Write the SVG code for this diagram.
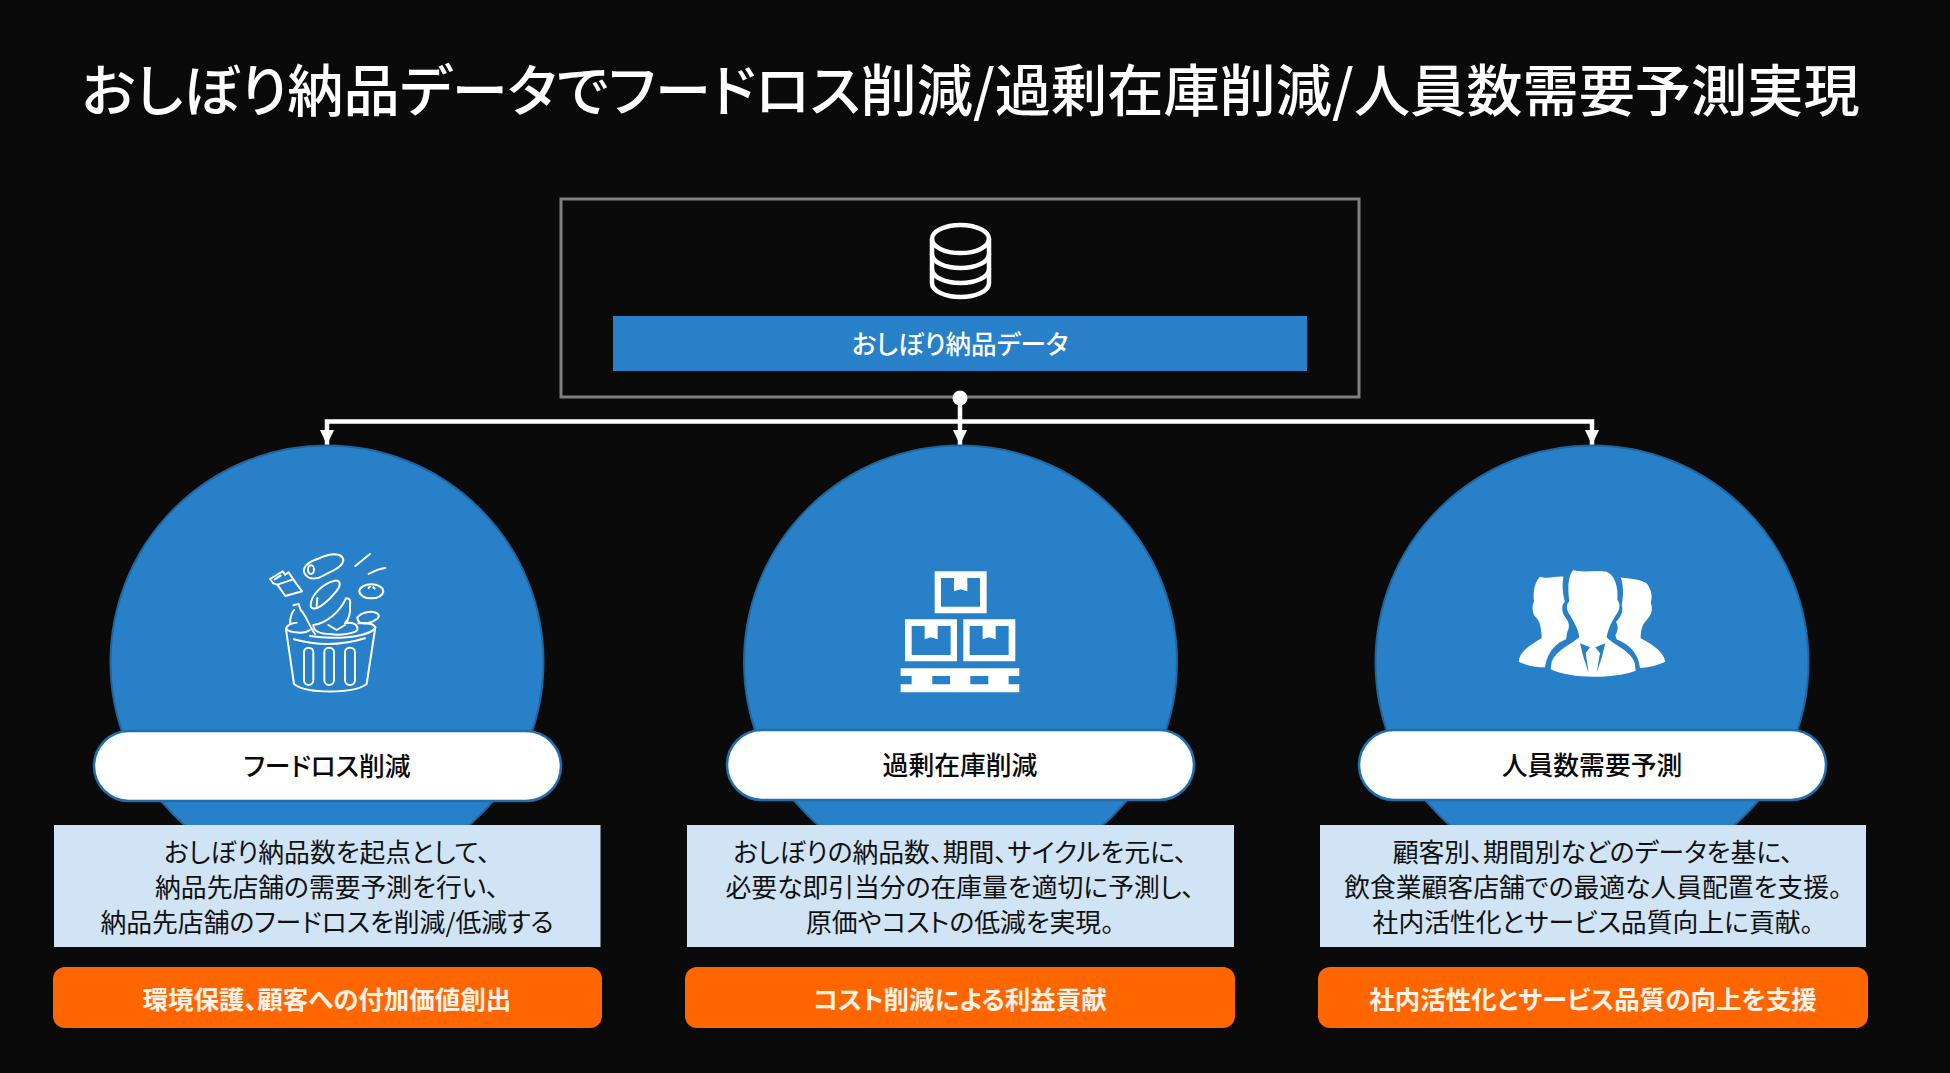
<svg xmlns="http://www.w3.org/2000/svg" width="1950" height="1073" viewBox="0 0 1950 1073">
<style>
text{font-family:"Noto Sans CJK JP","Noto Sans",sans-serif;text-anchor:middle;font-feature-settings:"palt";}
.title{font-size:56.200px;font-weight:500;fill:#fff}
.bar{fill:#2880c8}
.barText{font-size:25.600px;font-weight:500;fill:#fff}
.disc{fill:#2880c8;stroke:#1f659e;stroke-width:2}
.pill{fill:#fff;stroke:#1f6eae;stroke-width:2.5}
.pillText{font-size:25.800px;font-weight:500;fill:#0a0a0a}
.desc{fill:#d0e4f5}
.descText{font-size:25.800px;font-weight:400;fill:#111}
.tag{fill:#ff6600}
.tagText{font-size:25.500px;font-weight:700;fill:#fff2e8}
.line{fill:none;stroke:#fff;stroke-width:3.5;stroke-linecap:round;stroke-linejoin:round}
.conn{fill:none;stroke:#fff;stroke-width:4.500}
</style>
<defs>
<marker id="tip" markerUnits="userSpaceOnUse" markerWidth="16" markerHeight="14" refX="15" refY="7" orient="auto"><path d="M0,0L15,7L0,14Z" fill="#fff"/></marker>
<marker id="dot" markerUnits="userSpaceOnUse" markerWidth="16" markerHeight="16" refX="8" refY="8"><circle cx="8" cy="8" r="7.5" fill="#fff"/></marker>
</defs>
<rect width="1950" height="1073" fill="#0a0a0a"/>
<text id="title" class="title" x="970.500" y="111">おしぼり納品データでフードロス削減/過剰在庫削減/人員数需要予測実現</text>

<g id="data-source">
<rect x="561" y="199" width="798" height="198" fill="none" stroke="#7f7f7f" stroke-width="3"/>
<g class="line" style="stroke-width:4.5">
<ellipse cx="960.500" cy="239" rx="28.500" ry="14"/>
<path d="M932,239V283C932,291 945,297 960.500,297C976,297 989,291 989,283V239"/>
<path d="M932,254C932,262 945,268 960.500,268C976,268 989,262 989,254"/>
<path d="M932,269C932,277 945,283 960.500,283C976,283 989,277 989,269"/>
</g>
<rect class="bar" x="613" y="316" width="694" height="55"/>
<text class="barText" x="960" y="354">おしぼり納品データ</text>
</g>

<g id="connectors">
<path class="conn" d="M960,398V445" marker-start="url(#dot)" marker-end="url(#tip)"/>
<path class="conn" d="M960,421.500H327V445" marker-end="url(#tip)"/>
<path class="conn" d="M960,421.500H1592V445" marker-end="url(#tip)"/>
</g>

<g id="food-loss">
<circle class="disc" cx="327" cy="662" r="216.500"/>
<g transform="translate(230 530) scale(.3333)">
<g class="line" style="stroke-width:6">
<path d="M168,296C172,284 185,279 200,278M240,300C225,312 180,310 168,296M385,280C410,278 432,282 436,292C430,308 400,314 380,318C340,326 280,324 240,318"/>
<path d="M168,298L192,462C230,492 370,492 410,462L436,292"/>
<path d="M192,328C270,350 340,345 405,325"/>
<rect x="222" y="353" width="28" height="112" rx="14"/>
<rect x="283" y="353" width="29" height="112" rx="14"/>
<rect x="345" y="353" width="30" height="112" rx="14"/>
<path d="M222,118C228,95 262,88 285,78C310,68 338,72 340,90C340,112 300,125 278,138C262,148 240,148 232,140C224,133 220,126 222,118Z"/>
<ellipse cx="243" cy="119" rx="9" ry="13"/>
<path d="M120,147L158,124L165,134L176,127L190,148L216,184L166,198L142,164L130,160Z"/>
<path d="M142,164L190,148M134,148L152,137"/>
<path d="M242,228C240,200 275,160 315,152C335,150 332,170 318,185C295,215 262,240 248,235C244,233 242,230 242,228Z"/>
<path d="M260,228L262,204"/>
<path d="M376,108L420,72M416,132C430,124 450,116 466,114"/>
<ellipse cx="424" cy="184" rx="36" ry="21"/>
<path d="M416,174L420,170M430,172L434,176"/>
<path d="M190,226L206,222L212,240C228,255 236,285 255,312M180,282C180,258 186,248 192,240"/>
<path d="M250,285C290,280 330,245 348,205C362,205 362,215 360,225C362,250 355,270 345,280C370,275 385,285 382,300C375,310 330,318 300,312C275,312 250,305 250,285Z"/>
<path d="M295,285L320,300L345,285"/>
<path d="M382,262C395,245 435,238 446,255C450,270 410,285 390,278C384,274 382,268 382,262Z"/>
</g>
</g>
<rect class="pill" x="94" y="731" width="467" height="70" rx="35"/>
<text class="pillText" x="327" y="776">フードロス削減</text>
<rect class="desc" x="54" y="825" width="546.500" height="122"/>
<text class="descText" x="327" y="862">おしぼり納品数を起点として、</text>
<text class="descText" x="327" y="897">納品先店舗の需要予測を行い、</text>
<text class="descText" x="327" y="932">納品先店舗のフードロスを削減/低減する</text>
<rect class="tag" x="53" y="967" width="549" height="61" rx="12"/>
<text class="tagText" x="327" y="1009">環境保護、顧客への付加価値創出</text>
</g>

<g id="overstock">
<circle class="disc" cx="960.500" cy="662" r="216.500"/>
<g transform="translate(860 550) scale(.3333)">
<path fill="#fff" fill-rule="evenodd" d="M224,64H380V190H224ZM243,84V170H360V84H322V124L302,118L282,124V84Z"/>
<path fill="#fff" fill-rule="evenodd" d="M135,208H291V334H135ZM155,228V315H272V228H233V268L213,262L194,268V228Z"/>
<path fill="#fff" fill-rule="evenodd" d="M310,208H466V334H310ZM329,228V315H446V228H407V268L387,262L368,268V228Z"/>
<path fill="#fff" fill-rule="evenodd" d="M122,355H478V378H446V403H478V427H122V403H155V378H122ZM217,378V403H270V378ZM331,378V403H385V378Z"/>
</g>
<rect class="pill" x="727" y="730" width="467" height="70" rx="35"/>
<text class="pillText" x="960" y="775">過剰在庫削減</text>
<rect class="desc" x="687" y="825" width="547" height="122"/>
<text class="descText" x="960" y="862">おしぼりの納品数、期間、サイクルを元に、</text>
<text class="descText" x="960" y="897">必要な即引当分の在庫量を適切に予測し、</text>
<text class="descText" x="960" y="932">原価やコストの低減を実現。</text>
<rect class="tag" x="685" y="967" width="550" height="61" rx="12"/>
<text class="tagText" x="960" y="1009">コスト削減による利益貢献</text>
</g>

<g id="staffing">
<circle class="disc" cx="1592" cy="662" r="216.500"/>
<g transform="translate(1490 550) scale(.3333)">
<path fill="#fff" d="M150,80C175,88 195,78 220,80C215,110 220,140 225,155C212,165 215,190 228,205C240,220 238,235 232,245L228,268C200,280 175,300 165,352C135,352 105,345 86,335C88,310 110,290 155,265C155,240 150,215 140,205C125,190 125,170 132,155C128,125 135,95 150,80Z"/>
<path fill="#fff" d="M392,82C420,88 445,85 470,100C485,120 488,140 482,160C490,175 485,195 470,210C455,225 452,245 452,265C490,285 520,305 526,335C505,345 480,352 450,354C445,310 420,285 380,268L376,255C385,245 385,225 378,215C392,205 402,180 395,165C400,140 402,110 392,82Z"/>
<path fill="#fff" d="M250,60C280,70 320,58 350,65C375,75 385,110 382,150C392,160 390,180 378,195C365,215 355,235 350,262C370,285 420,300 434,338L437,362C370,387 240,387 182,358L185,335C200,300 240,285 268,262C265,235 250,215 240,195C228,180 228,160 238,155C232,110 235,75 250,60Z"/>
<path fill="#2880c8" d="M270,280L300,292L287,310L296,368L280,320ZM346,280L316,292L330,310L320,368L336,320Z"/>
</g>
<rect class="pill" x="1359" y="730" width="467" height="70" rx="35"/>
<text class="pillText" x="1592" y="775">人員数需要予測</text>
<rect class="desc" x="1320" y="825" width="546" height="122"/>
<text class="descText" x="1593" y="862">顧客別、期間別などのデータを基に、</text>
<text class="descText" x="1593" y="897">飲食業顧客店舗での最適な人員配置を支援。</text>
<text class="descText" x="1593" y="932">社内活性化とサービス品質向上に貢献。</text>
<rect class="tag" x="1318" y="967" width="550" height="61" rx="12"/>
<text class="tagText" x="1593" y="1009">社内活性化とサービス品質の向上を支援</text>
</g>
</svg>
